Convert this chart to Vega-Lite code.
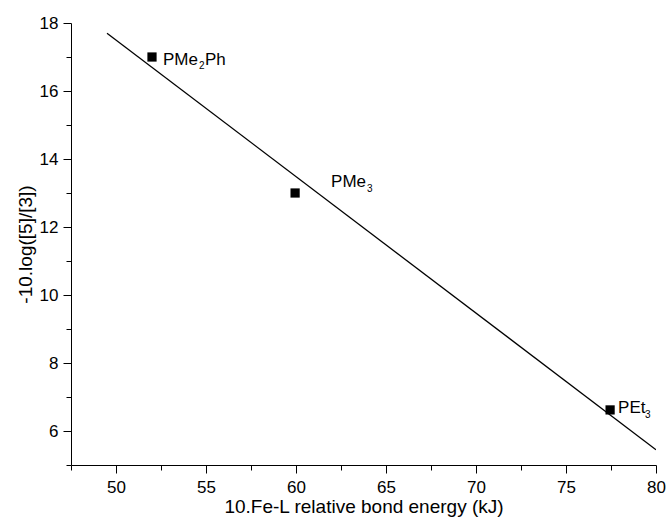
{
  "$schema": "https://vega.github.io/schema/vega-lite/v6.json",
  "width": 585,
  "height": 442,
  "autosize": "none",
  "padding": {"left": 71, "top": 23, "right": 10, "bottom": 60},
  "background": "white",
  "config": {
    "view": {"stroke": null},
    "font": "Liberation Sans",
    "axis": {
      "grid": false,
      "domainColor": "black",
      "domainWidth": 1,
      "tickColor": "black",
      "tickWidth": 1,
      "labelColor": "black",
      "titleColor": "black",
      "labelFont": "Liberation Sans",
      "titleFont": "Liberation Sans",
      "labelFontSize": 17,
      "titleFontSize": 19,
      "titleFontWeight": "normal",
      "labelFlush": false,
      "labelOverlap": false
    }
  },
  "datasets": {
    "points": [
      {"energy": 52.0, "logratio": 17.0, "ligand": "PMe2Ph"},
      {"energy": 59.95, "logratio": 13.0, "ligand": "PMe3"},
      {"energy": 77.45, "logratio": 6.62, "ligand": "PEt3"}
    ],
    "fit": [
      {"energy": 49.5, "logratio": 17.7},
      {"energy": 80.0, "logratio": 5.45}
    ]
  },
  "resolve": {"axis": {"x": "independent", "y": "independent"}},
  "layer": [
    {
      "data": {"name": "fit"},
      "mark": {"type": "line", "color": "black", "strokeWidth": 1.3, "clip": true},
      "encoding": {
        "x": {
          "field": "energy",
          "type": "quantitative",
          "scale": {"domain": [47.5, 80], "nice": false, "zero": false},
          "axis": {
            "orient": "bottom",
            "title": "10.Fe-L relative bond energy (kJ)",
            "values": [50, 55, 60, 65, 70, 75, 80],
            "tickSize": 8,
            "labelPadding": 6,
            "titleBaseline": "alphabetic",
            "titleY": 47
          }
        },
        "y": {
          "field": "logratio",
          "type": "quantitative",
          "scale": {"domain": [5, 18], "nice": false, "zero": false},
          "axis": {
            "orient": "left",
            "title": "-10.log([5]/[3])",
            "values": [6, 8, 10, 12, 14, 16, 18],
            "tickSize": 8,
            "labelPadding": 5,
            "titleBaseline": "alphabetic",
            "titleX": -40,
            "titleY": 221
          }
        }
      }
    },
    {
      "data": {"name": "points"},
      "mark": {"type": "point", "shape": "square", "filled": true, "color": "black", "opacity": 1, "size": 85},
      "encoding": {
        "x": {
          "field": "energy",
          "type": "quantitative",
          "axis": {
            "orient": "bottom",
            "title": null,
            "values": [47.5, 52.5, 57.5, 62.5, 67.5, 72.5, 77.5],
            "tickSize": 5,
            "labels": false,
            "domain": false
          }
        },
        "y": {
          "field": "logratio",
          "type": "quantitative",
          "axis": {
            "orient": "left",
            "title": null,
            "values": [5, 7, 9, 11, 13, 15, 17],
            "tickSize": 5,
            "labels": false,
            "domain": false
          }
        }
      }
    },
    {
      "data": {"name": "points"},
      "transform": [{"filter": "datum.ligand == 'PMe2Ph'"}],
      "layer": [
        {"mark": {"type": "text", "text": "PMe", "align": "left", "baseline": "alphabetic", "dx": 11, "dy": 8, "fontSize": 17, "color": "black"}},
        {"mark": {"type": "text", "text": "2", "align": "left", "baseline": "alphabetic", "dx": 47, "dy": 12, "fontSize": 10, "color": "black"}},
        {"mark": {"type": "text", "text": "Ph", "align": "left", "baseline": "alphabetic", "dx": 53, "dy": 8, "fontSize": 17, "color": "black"}}
      ],
      "encoding": {
        "x": {"field": "energy", "type": "quantitative", "axis": null},
        "y": {"field": "logratio", "type": "quantitative", "axis": null}
      }
    },
    {
      "data": {"name": "points"},
      "transform": [{"filter": "datum.ligand == 'PMe3'"}],
      "layer": [
        {"mark": {"type": "text", "text": "PMe", "align": "left", "baseline": "alphabetic", "dx": 36, "dy": -6, "fontSize": 17, "color": "black"}},
        {"mark": {"type": "text", "text": "3", "align": "left", "baseline": "alphabetic", "dx": 72, "dy": -1, "fontSize": 10, "color": "black"}}
      ],
      "encoding": {
        "x": {"field": "energy", "type": "quantitative", "axis": null},
        "y": {"field": "logratio", "type": "quantitative", "axis": null}
      }
    },
    {
      "data": {"name": "points"},
      "transform": [{"filter": "datum.ligand == 'PEt3'"}],
      "layer": [
        {"mark": {"type": "text", "text": "PEt", "align": "left", "baseline": "alphabetic", "dx": 8, "dy": 3, "fontSize": 17, "color": "black"}},
        {"mark": {"type": "text", "text": "3", "align": "left", "baseline": "alphabetic", "dx": 35, "dy": 8, "fontSize": 10, "color": "black"}}
      ],
      "encoding": {
        "x": {"field": "energy", "type": "quantitative", "axis": null},
        "y": {"field": "logratio", "type": "quantitative", "axis": null}
      }
    }
  ]
}
